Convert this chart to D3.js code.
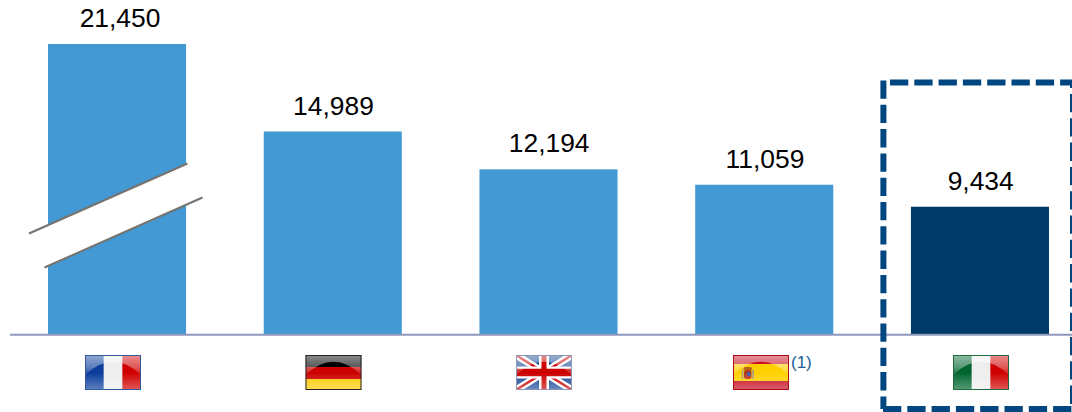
<!DOCTYPE html>
<html>
<head>
<meta charset="utf-8">
<script src="https://cdn.jsdelivr.net/npm/d3@7/dist/d3.min.js"></script>
<style>
html,body{margin:0;padding:0;background:#fff;overflow:hidden}
svg{display:block}
text{font-family:"Liberation Sans",Arial,sans-serif}
</style>
</head>
<body>
<svg id="chart" width="1072" height="412"></svg>
<script>
// Chart data
const countries = ["France", "Germany", "UK", "Spain", "Italy"];
const values = [21450, 14989, 12194, 11059, 9434];
const highlighted = ["Italy"];
const footnotes = { Spain: "(1)" };

const BAR = "#4299d4", BAR_HI = "#003a68", AXIS = "#8e98bd", FRAME = "#004680", NOTE = "#1b5c94";
const W = 1072, H = 412;
const svg = d3.select("#chart").attr("viewBox", `0 0 ${W} ${H}`);
const defs = svg.append("defs");

const x = d3.scaleBand().domain(countries).range([48, 1049]).paddingInner(0.36).paddingOuter(0);
const y = d3.scaleLinear().domain([0, 21450]).range([334.5, 44]);
const fmt = d3.format(",");

// Bars
svg.selectAll("rect.bar").data(countries).join("rect")
  .attr("class", "bar")
  .attr("x", d => x(d)).attr("width", x.bandwidth())
  .attr("y", (d, i) => y(values[i])).attr("height", (d, i) => y(0) - y(values[i]))
  .attr("fill", d => highlighted.includes(d) ? BAR_HI : BAR);

// Value labels
svg.selectAll("text.value").data(countries).join("text")
  .attr("class", "value")
  .attr("x", d => x(d) + x.bandwidth() / 2 + (d === "France" ? 3 : 0.7))
  .attr("y", (d, i) => y(values[i]) - 17)
  .attr("text-anchor", "middle")
  .attr("font-size", 26.4).attr("fill", "#000")
  .text((d, i) => fmt(values[i]));

// Scale break across the first bar
svg.append("path").attr("d", "M29,233.5L187,163.5L202.5,197.5L44.5,267.5Z").attr("fill", "#fff");
svg.append("path").attr("d", "M29,233.5L187.5,163.5M44.5,267.5L202.5,197.5")
  .attr("stroke", "#76736f").attr("stroke-width", 2).attr("fill", "none");

// Baseline
svg.append("line").attr("x1", 10).attr("x2", W).attr("y1", 334.7).attr("y2", 334.7)
  .attr("stroke", AXIS).attr("stroke-width", 2);

// Flag gloss and softening
const gloss = defs.append("linearGradient").attr("id", "gloss").attr("x1", 0).attr("x2", 0).attr("y1", 0).attr("y2", 1);
gloss.append("stop").attr("offset", 0).attr("stop-color", "#fff").attr("stop-opacity", 0.55);
gloss.append("stop").attr("offset", 0.6).attr("stop-color", "#fff").attr("stop-opacity", 0.35);
gloss.append("stop").attr("offset", 1).attr("stop-color", "#fff").attr("stop-opacity", 0.08);
const sheen = defs.append("linearGradient").attr("id", "sheen").attr("x1", 0).attr("x2", 0).attr("y1", 0).attr("y2", 1);
sheen.append("stop").attr("offset", 0.5).attr("stop-color", "#fff").attr("stop-opacity", 0);
sheen.append("stop").attr("offset", 1).attr("stop-color", "#fff").attr("stop-opacity", 0.35);
defs.append("filter").attr("id", "soft").append("feGaussianBlur").attr("stdDeviation", 0.45);

const FW = 56, FH = 35;
const flagCentre = { France: 113, Germany: 333.5, UK: 544, Spain: 761, Italy: 981 };

const stripesV = (g, cols) => cols.forEach((c, i) =>
  g.append("rect").attr("x", i * FW / 3).attr("width", FW / 3 + .3).attr("height", FH).attr("fill", c));
const stripesH = (g, rows) => { let t = 0; rows.forEach(([c, h]) => {
  g.append("rect").attr("y", t).attr("width", FW).attr("height", h + .3).attr("fill", c); t += h; }); };

const painters = {
  France: g => stripesV(g, ["#0a3d9c", "#eeeeee", "#d00000"]),
  Italy: g => stripesV(g, ["#00662f", "#eeeeee", "#d00000"]),
  Germany: g => stripesH(g, [["#000", 12], ["#cc0000", 12], ["#ffcc00", 11]]),
  Spain: g => {
    stripesH(g, [["#c60b1e", 9], ["#ffd000", 17], ["#c60b1e", 9]]);
    // Coat of arms
    g.append("rect").attr("x", 10.5).attr("y", 12).attr("width", 8.5).attr("height", 3.5).attr("rx", 1.5).attr("fill", "#b5651d");
    g.append("rect").attr("x", 11).attr("y", 15).attr("width", 7.5).attr("height", 9).attr("rx", 2.5).attr("fill", "#b8341f");
    g.append("rect").attr("x", 14).attr("y", 17).attr("width", 3.5).attr("height", 4).attr("fill", "#3d5aa8");
    g.append("rect").attr("x", 8.7).attr("y", 15).attr("width", 1.6).attr("height", 9).attr("fill", "#a29a88");
    g.append("rect").attr("x", 19.3).attr("y", 15).attr("width", 1.6).attr("height", 9).attr("fill", "#a29a88");
  },
  UK: g => {
    g.append("rect").attr("width", FW).attr("height", FH).attr("fill", "#1c4a96");
    const line = (x1, y1, x2, y2, w, c) => g.append("line").attr("x1", x1).attr("y1", y1).attr("x2", x2).attr("y2", y2)
      .attr("stroke", c).attr("stroke-width", w);
    line(0, 0, FW, FH, 7, "#fff"); line(0, FH, FW, 0, 7, "#fff");
    line(0, 0, FW, FH, 2.4, "#cc0000"); line(0, FH, FW, 0, 2.4, "#cc0000");
    line(FW / 2, 0, FW / 2, FH, 10, "#fff"); line(0, FH / 2, FW, FH / 2, 12, "#fff");
    line(FW / 2, 0, FW / 2, FH, 5, "#cc0000"); line(0, FH / 2, FW, FH / 2, 7.5, "#cc0000");
  }
};
const edge = { France: "#33599f", Germany: "#222", UK: "#8c96b4", Spain: "#a80f12", Italy: "#1d6b3c" };

countries.forEach((c, i) => {
  const g = svg.append("g").attr("transform", `translate(${flagCentre[c] - FW / 2},355)`).attr("filter", "url(#soft)");
  defs.append("clipPath").attr("id", "clip" + i).append("rect").attr("width", FW).attr("height", FH);
  const inner = g.append("g").attr("clip-path", `url(#clip${i})`);
  painters[c](inner);
  inner.append("rect").attr("width", FW).attr("height", FH).attr("fill", "url(#sheen)");
  inner.append("path").attr("d", `M0,0H${FW}V20Q${FW / 2},-6.6 0,20Z`).attr("fill", "url(#gloss)");
  g.append("rect").attr("x", .5).attr("y", .5).attr("width", FW - 1).attr("height", FH - 1)
    .attr("fill", "none").attr("stroke", edge[c]).attr("stroke-width", 1);
});

// Footnote marker
Object.entries(footnotes).forEach(([c, t]) =>
  svg.append("text").attr("x", flagCentre[c] + 30).attr("y", 367.5)
    .attr("font-size", 17).attr("fill", NOTE).text(t));

// Dashed frame around the highlighted country; each side carries its own dash phase
const left = 883.4, right = 1073, top_ = 82.5, bottom = 409;
[
  `M${left},${top_ - 2}V${bottom}`,
  `M${left - 0.4},${bottom}H${right}`,
  `M890,${top_}H${right}V88`,
  `M${right},94V${bottom}`
].forEach(d => svg.append("path").attr("d", d)
  .attr("fill", "none").attr("stroke", FRAME).attr("stroke-width", 6).attr("stroke-dasharray", "18.3 6"));
</script>
</body>
</html>
